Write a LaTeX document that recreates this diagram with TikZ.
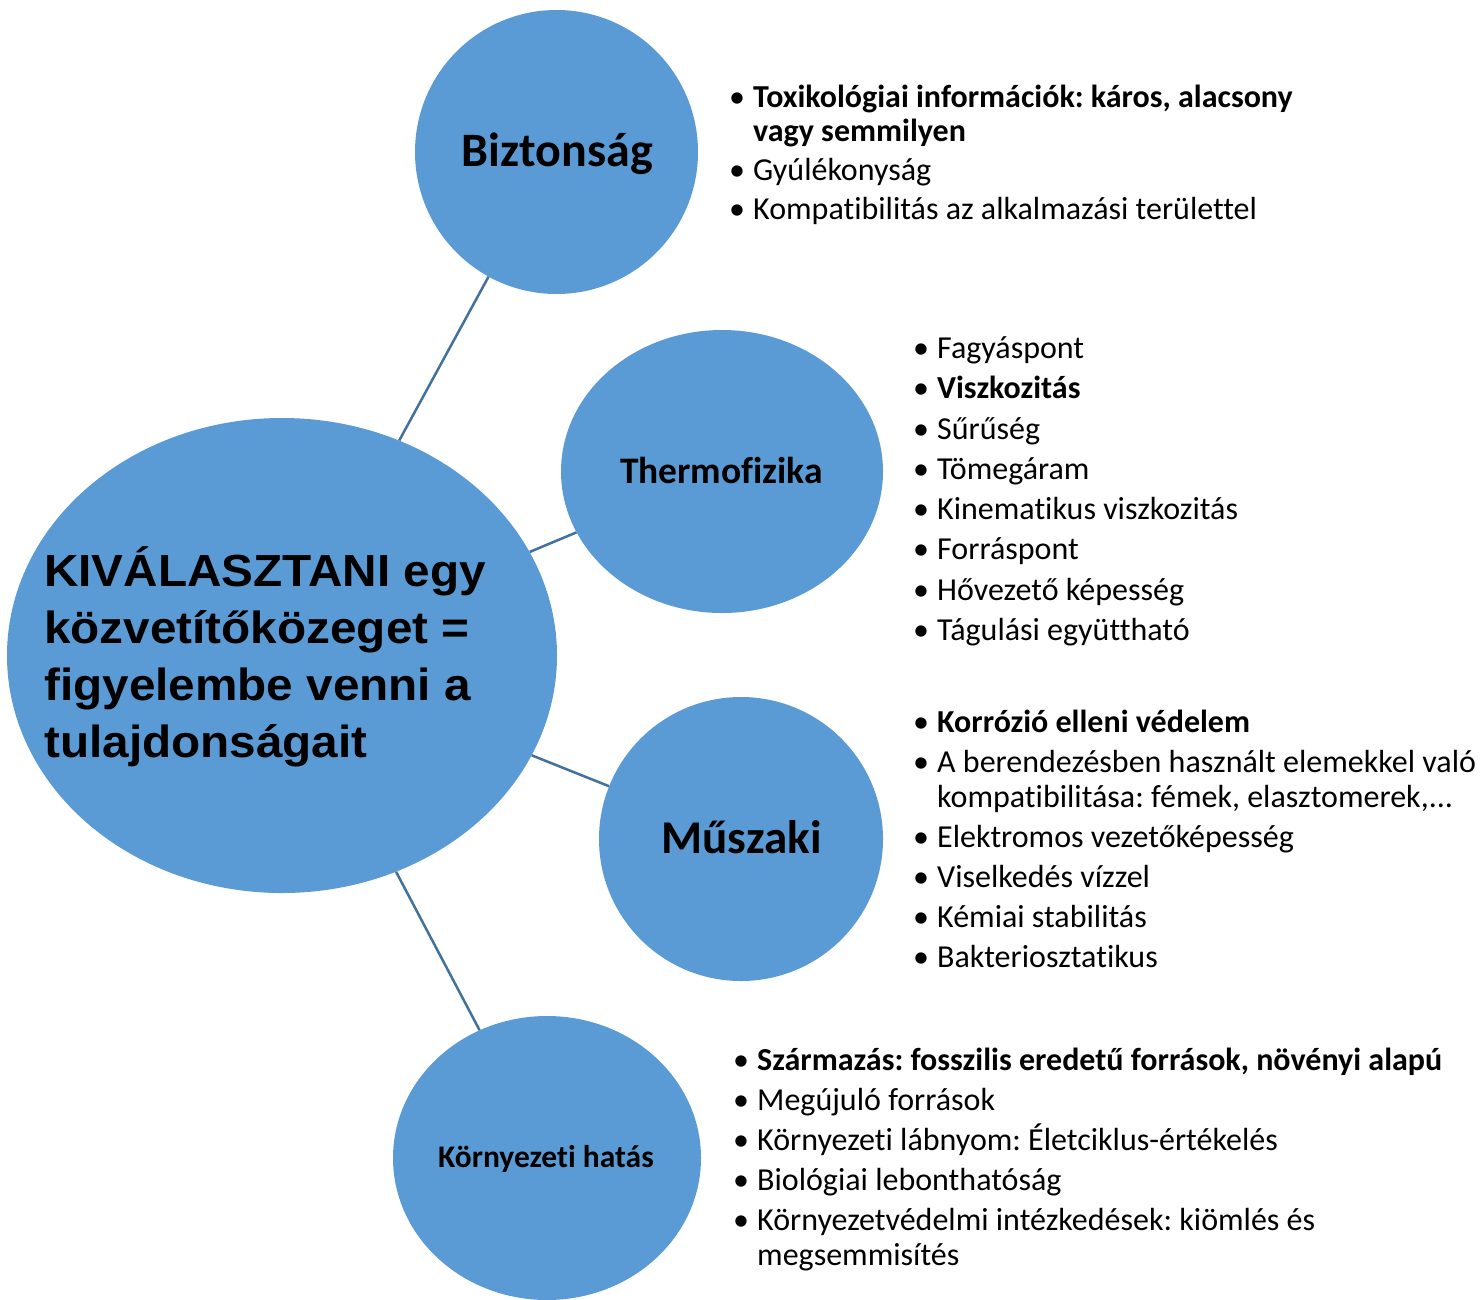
\documentclass[tikz,border=0pt]{standalone}
\usepackage{fontspec}
\setmainfont{Carlito}[Ligatures=NoCommon]
\newfontfamily\arialfont{Liberation Sans}[FakeStretch=1.06]
\usetikzlibrary{shapes.geometric}
\frenchspacing
\definecolor{bubblefill}{HTML}{5B9BD5}
\definecolor{linkcol}{HTML}{41719C}
\newcommand{\bul}{\makebox[24pt][l]{•}}
\newcommand{\ind}{\hspace*{24pt}}
\tikzset{
  bubble/.style={ellipse, fill=bubblefill, draw=none, inner sep=0pt},
  link/.style={draw=linkcol, line width=2.5pt},
  bubblelabel/.style={anchor=base, inner sep=0pt},
  listtext/.style={anchor=base west, inner sep=0pt, align=left,
    font=\frenchspacing\fontsize{32}{34.5}\selectfont},
}
\begin{document}
\begin{tikzpicture}[x=1pt,y=-1pt]
\useasboundingbox (0,0) rectangle (1482,1299);
% bubbles
\node[bubble, minimum width=550pt, minimum height=475pt] (main) at (282,655.5) {};
\node[bubble, minimum width=283pt, minimum height=284pt] (bizt) at (556.5,152) {};
\node[bubble, minimum width=322pt, minimum height=283pt] (thermo) at (722,471.5) {};
\node[bubble, minimum width=284pt, minimum height=284pt] (musz) at (741,839) {};
\node[bubble, minimum width=308pt, minimum height=284pt] (korny) at (547,1158) {};
% connectors
\draw[link] (main) -- (bizt);
\draw[link] (main) -- (thermo);
\draw[link] (main) -- (musz);
\draw[link] (main) -- (korny);
% labels (base anchor = baseline of last line)
\node[anchor=base west, inner sep=0pt, align=left,
  font=\arialfont\bfseries\fontsize{45}{56.7}\selectfont] (mainlabel) at (44,757)
  {KIVÁLASZTANI egy\\közvetítőközeget =\\figyelembe venni a\\tulajdonságait};
\node[bubblelabel, font=\bfseries\fontsize{48}{55}\selectfont] (biztlabel) at (557.5,166) {Biztonság};
\node[bubblelabel, font=\bfseries\fontsize{37.5}{44}\selectfont] (thermolabel) at (721.5,483) {Thermofizika};
\node[bubblelabel, font=\bfseries\fontsize{47}{55}\selectfont] (muszlabel) at (741.5,853) {Műszaki};
\node[bubblelabel, font=\bfseries\fontsize{31.5}{38}\selectfont] (kornylabel) at (546,1167) {Környezeti hatás};
% lists
\node[listtext] (biztlist) at (729,219.5) {%
  \bul\textbf{Toxikológiai információk: káros, alacsony}\\
  \ind\textbf{vagy semmilyen}\\[4.5pt]
  \bul Gyúlékonyság\\[4.5pt]
  \bul Kompatibilitás az alkalmazási területtel};
\node[listtext] (thermolist) at (913,640.5) {%
  \bul Fagyáspont\\[5.8pt]
  \bul\textbf{Viszkozitás}\\[5.8pt]
  \bul Sűrűség\\[5.8pt]
  \bul Tömegáram\\[5.8pt]
  \bul Kinematikus viszkozitás\\[5.8pt]
  \bul Forráspont\\[5.8pt]
  \bul Hővezető képesség\\[5.8pt]
  \bul Tágulási együttható};
\node[listtext] (muszlist) at (913,967) {%
  \bul\textbf{Korrózió elleni védelem}\\[5.5pt]
  \bul A berendezésben használt elemekkel való\\
  \ind kompatibilitása: fémek, elasztomerek,...\\[5.5pt]
  \bul Elektromos vezetőképesség\\[5.5pt]
  \bul Viselkedés vízzel\\[5.5pt]
  \bul Kémiai stabilitás\\[5.5pt]
  \bul Bakteriosztatikus};
\node[listtext] (kornylist) at (733,1265) {%
  \bul\textbf{Származás: fosszilis eredetű források, növényi alapú}\\[5.5pt]
  \bul Megújuló források\\[5.5pt]
  \bul Környezeti lábnyom: Életciklus-értékelés\\[5.5pt]
  \bul Biológiai lebonthatóság\\[5.5pt]
  \bul Környezetvédelmi intézkedések: kiömlés és\\
  \ind megsemmisítés};
\end{tikzpicture}
\end{document}
